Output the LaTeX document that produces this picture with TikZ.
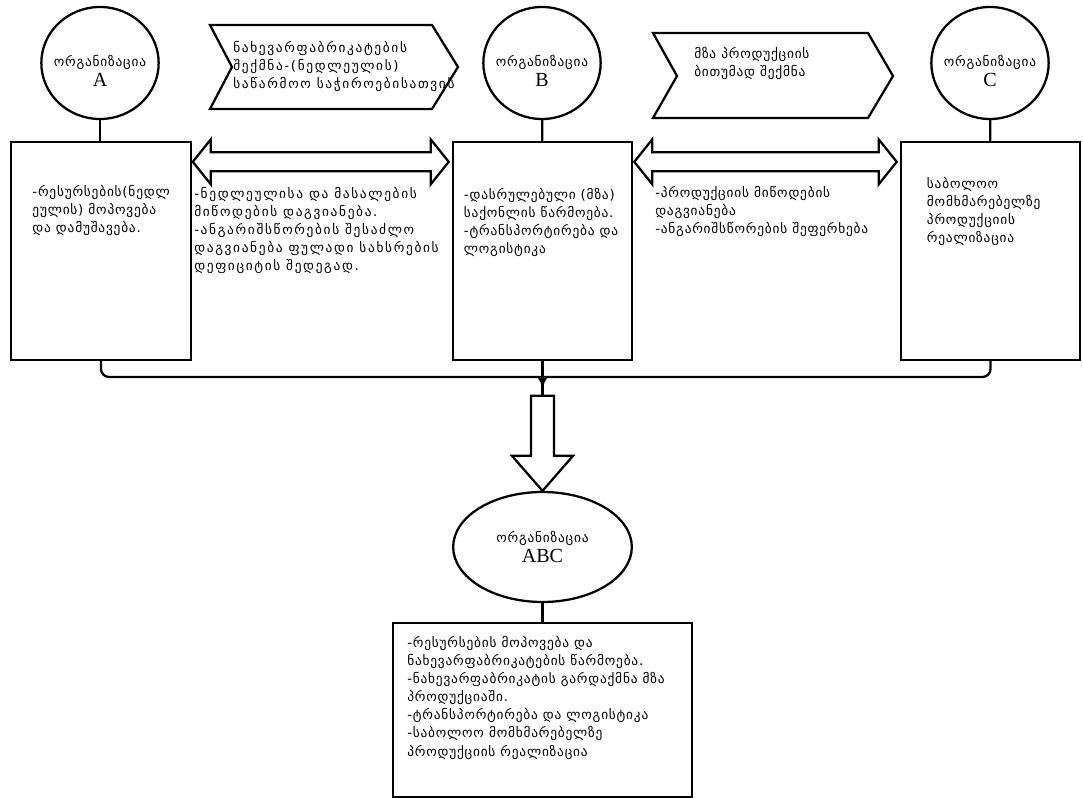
\documentclass[tikz,border=0pt]{standalone}
\usepackage{fontspec}
\setmainfont[LetterSpace=6]{DejaVu Sans}
\newfontfamily\spreadfont[LetterSpace=12.5]{DejaVu Sans}
\newfontfamily\letterfont{Liberation Serif}
\usetikzlibrary{shapes.geometric}
\usetikzlibrary{calc}

\tikzset{
  org/.style={ellipse, draw, line width=1.7pt, minimum width=88pt, minimum height=84pt, inner sep=0pt},
  orgname/.style={align=center, inner sep=0pt, font=\fontsize{10}{15}\selectfont},
  unit/.style={rectangle, draw, line width=1.7pt, minimum width=134.5pt, minimum height=163.5pt, inner sep=0pt},
  note/.style={anchor=north west, inner sep=0pt, align=left, font=\fontsize{10}{13.6}\selectfont},
  link/.style={draw, line width=1.7pt},
  flow/.style={draw, line width=1.7pt, fill=white, line join=miter},
}

% two-headed block arrow between two boxes
\newcommand{\twoway}[2]{%
  \draw[flow] ($(#1.north east)+(1,21)$) -- ++(18,-22.5) -- ++(0,13)
    -- ($(#2.north west)+(-21,11.5)$) -- ++(0,-13) -- ++(18,22.5)
    -- ++(-18,22.5) -- ++(0,-13) -- ($(#1.north east)+(19,30.5)$)
    -- ++(0,13) -- cycle;}

\begin{document}
\begin{tikzpicture}[x=0.75pt, y=-0.75pt]
  \useasboundingbox (0,0) rectangle (1083,798);

  % organisations
  \node[org] (orgA) at (100,63) {};
  \node[org] (orgB) at (542,63) {};
  \node[org] (orgC) at (990,63) {};
  \node[orgname] (nameA) at ($(orgA)+(0,8)$) {ორგანიზაცია\\{\letterfont\fontsize{15}{16}\selectfont A}};
  \node[orgname] (nameB) at ($(orgB)+(0,8)$) {ორგანიზაცია\\{\letterfont\fontsize{15}{16}\selectfont B}};
  \node[orgname] (nameC) at ($(orgC)+(0,8)$) {ორგანიზაცია\\{\letterfont\fontsize{15}{16}\selectfont C}};

  \node[unit] (boxA) at (101,251) {};
  \node[unit] (boxB) at (542.5,251) {};
  \node[unit] (boxC) at (990.5,251) {};

  \draw[link] (orgA) -- (orgA |- boxA.north);
  \draw[link] (orgB) -- (boxB);
  \draw[link] (orgC) -- (boxC);

  % chevrons
  \draw[flow] (210,25) -- (432,25) -- (458,67) -- (432,109) -- (210,109) -- (232,67) -- cycle;
  \draw[flow] (653,33) -- (868,33) -- (893,76) -- (868,118) -- (653,118) -- (677,76) -- cycle;
  \node[note, font=\spreadfont\fontsize{10}{13.6}\selectfont] (halfmade) at (233,41) {ნახევარფაბრიკატების\\შექმნა-(ნედლეულის)\\საწარმოო საჭიროებისათვის};
  \node[note] (ready) at (694,47) {მზა პროდუქციის\\ბითუმად შექმნა};

  % exchange between the units
  \twoway{boxA}{boxB}
  \twoway{boxB}{boxC}

  \node[note] (textA) at ($(boxA.north west)+(22,44)$) {-რესურსების(ნედლ\\ეულის) მოპოვება\\და დამუშავება.};
  \node[note] (textB) at ($(boxB.north west)+(12,47)$) {-დასრულებული (მზა)\\საქონლის წარმოება.\\-ტრანსპორტირება და\\ლოგისტიკა};
  \node[note] (textC) at ($(boxC.north west)+(27,36)$) {საბოლოო\\მომხმარებელზე\\პროდუქციის\\რეალიზაცია};
  \node[note, font=\spreadfont\fontsize{10}{13.6}\selectfont] (riskAB) at (194,187) {-ნედლეულისა და მასალების\\მიწოდების დაგვიანება.\\-ანგარიშსწორების შესაძლო\\დაგვიანება ფულადი სახსრების\\დეფიციტის შედეგად.};
  \node[note] (riskBC) at (655,186) {-პროდუქციის მიწოდების\\დაგვიანება\\-ანგარიშსწორების შეფერხება};

  % merged organisation
  \node[org, minimum width=134pt, minimum height=82.5pt] (orgABC) at (542.5,547) {};
  \node[orgname] (nameABC) at ($(orgABC)+(0,0)$) {ორგანიზაცია\\{\letterfont\fontsize{15}{16}\selectfont ABC}};
  \node[unit, minimum width=224pt, minimum height=130.5pt] (boxABC) at (542.5,710) {};
  \node[note] (textABC) at ($(boxABC.north west)+(15,14)$) {-რესურსების მოპოვება და\\ნახევარფაბრიკატების წარმოება.\\-ნახევარფაბრიკატის გარდაქმნა მზა\\პროდუქციაში.\\-ტრანსპორტირება და ლოგისტიკა\\-საბოლოო მომხმარებელზე\\პროდუქციის რეალიზაცია};

  \coordinate (junc) at (boxB.south |- 0,377);
  \coordinate (funnel) at ($(orgABC.north)+(0,-95)$);
  \draw[link, rounded corners=6pt] (boxA.south) |- ($(junc)+(-11,0)$) to[out=0, in=90] ($(junc)+(0,9)$);
  \draw[link, rounded corners=6pt] (boxC.south) |- ($(junc)+(11,0)$) to[out=180, in=90] ($(junc)+(0,9)$);
  \draw[link] (boxB) -- (funnel);
  \draw[flow] (orgABC.north) -- ++(-30.5,-35) -- ++(19,0) -- ++(0,-60) -- ++(23,0) -- ++(0,60) -- ++(19,0) -- cycle;
  \draw[link] (orgABC) -- (boxABC);
\end{tikzpicture}
\end{document}
